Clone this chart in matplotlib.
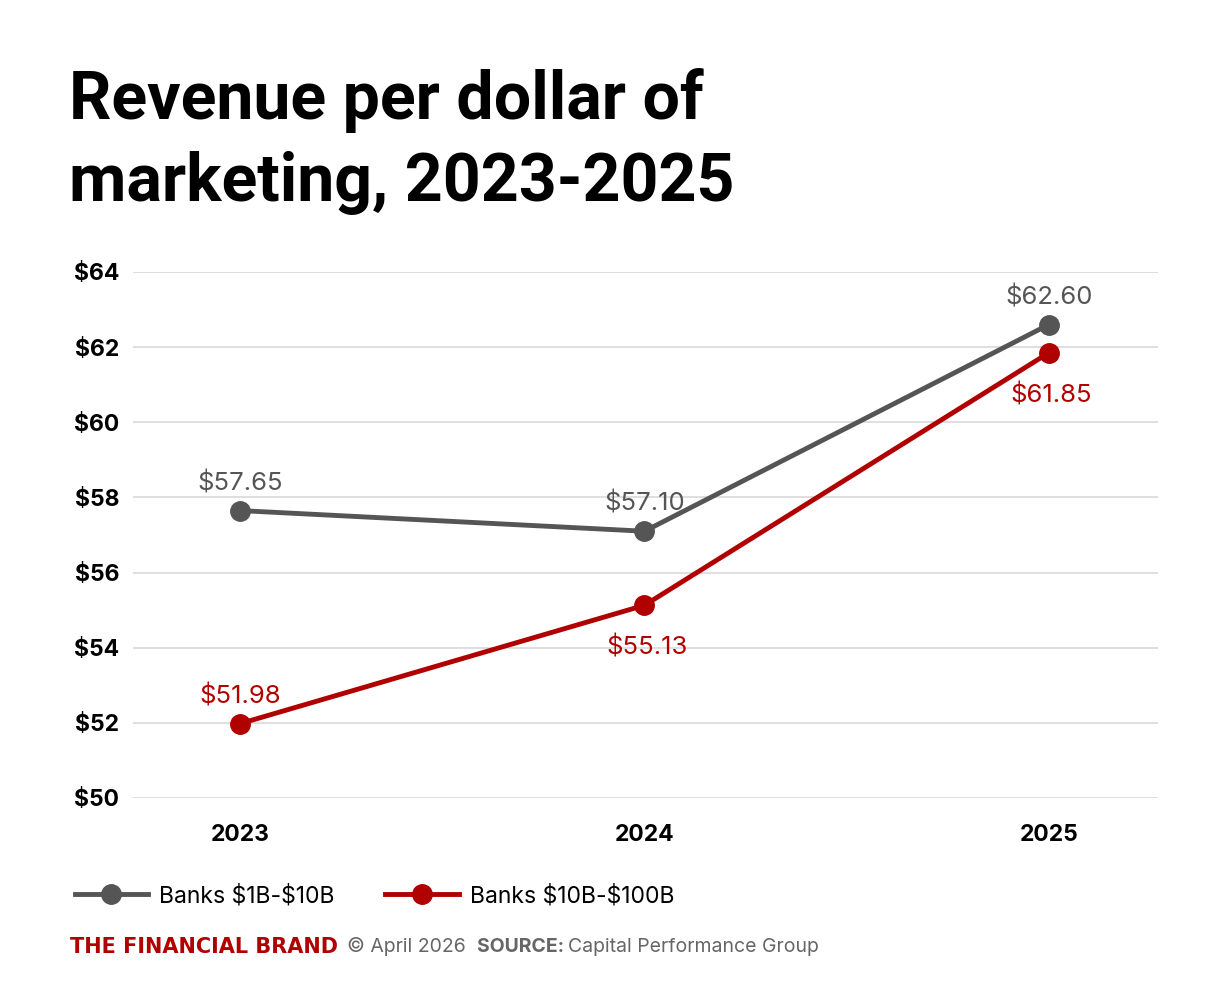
"""Revenue per dollar of marketing, 2023-2025 (line chart)."""
import matplotlib
matplotlib.use("Agg")
import matplotlib.pyplot as plt
from matplotlib.lines import Line2D

years = ["2023", "2024", "2025"]
small_banks = [57.65, 57.10, 62.60]
mid_banks = [51.98, 55.13, 61.85]
series_names = ["Banks \\$1B-\\$10B", "Banks \\$10B-\\$100B"]
y_ticks = [50, 52, 54, 56, 58, 60, 62, 64]

GREY = "#555555"
RED = "#b00000"
FOOT = "#666666"

plt.rcParams["font.family"] = ["Inter", "DejaVu Sans"]

W, H = 1227, 1000
fig = plt.figure(figsize=(12.27, 10.0), dpi=100)
ax = fig.add_axes([133 / W, 1 - 798 / H, (1158 - 133) / W, (798 - 272) / H])

x = list(range(len(years)))
ax.plot(x, small_banks, color=GREY, lw=3.5, marker="o", ms=14, zorder=3)
ax.plot(x, mid_banks, color=RED, lw=3.5, marker="o", ms=14, zorder=3)

# value labels: grey above; red above at first point, below elsewhere
for i, v in enumerate(small_banks):
    ax.annotate(f"${v:.2f}", (i, v), xytext=(0, 11), textcoords="offset points",
                ha="center", va="bottom", fontsize=18.5, color=GREY)
for i, v in enumerate(mid_banks):
    if i == 0:
        ax.annotate(f"${v:.2f}", (i, v), xytext=(0, 11), textcoords="offset points",
                    ha="center", va="bottom", fontsize=18.5, color=RED)
    else:
        ax.annotate(f"${v:.2f}", (i, v), xytext=(2, -22), textcoords="offset points",
                    ha="center", va="top", fontsize=18.5, color=RED)

ax.set_xlim(-0.265, 2.27)
ax.set_ylim(50, 64)
ax.set_yticks(y_ticks, [f"${t}" for t in y_ticks])
ax.set_xticks(x, years)
for lab in ax.get_yticklabels() + ax.get_xticklabels():
    lab.set_fontweight("bold")
    lab.set_fontsize(16.5)
    lab.set_color("black")
ax.tick_params(axis="y", length=0, pad=10)
ax.tick_params(axis="x", length=0, pad=19)
ax.grid(axis="y", color="#d9d9d9", lw=1.2)
ax.set_axisbelow(True)
for s in ax.spines.values():
    s.set_visible(False)

fig.text(69 / W, 1 - 68 / H, "Revenue per dollar of\nmarketing, 2023-2025",
         fontsize=47.7, fontweight="bold", va="top", ha="left", linespacing=1.36,
         family="Roboto")

handles = [Line2D([], [], color=GREY, lw=3.5, marker="o", ms=14),
           Line2D([], [], color=RED, lw=3.5, marker="o", ms=14)]
fig.legend(handles, series_names, loc="center left", bbox_to_anchor=(54 / W, 1 - 896 / H),
           ncol=2, frameon=False, fontsize=16.5, handlelength=3.2, columnspacing=2.2,
           handletextpad=0.5)

# footer pieces
fy = 1 - 947 / H
renderer = fig.canvas.get_renderer()
fig.text(70 / W, fy, "THE FINANCIAL BRAND", color=RED, fontweight="bold",
         family="DejaVu Sans", fontsize=15, va="center", ha="left")
parts = [("© April 2026  ", dict(color=FOOT)),
         ("SOURCE: ", dict(color=FOOT, fontweight="bold")),
         ("Capital Performance Group", dict(color=FOOT))]
xpos = 347 / W
for s, kw in parts:
    t = fig.text(xpos, fy, s, va="center", ha="left", fontsize=14, **kw)
    xpos = t.get_window_extent(renderer).x1 / W

fig.savefig("out.png", dpi=100)
